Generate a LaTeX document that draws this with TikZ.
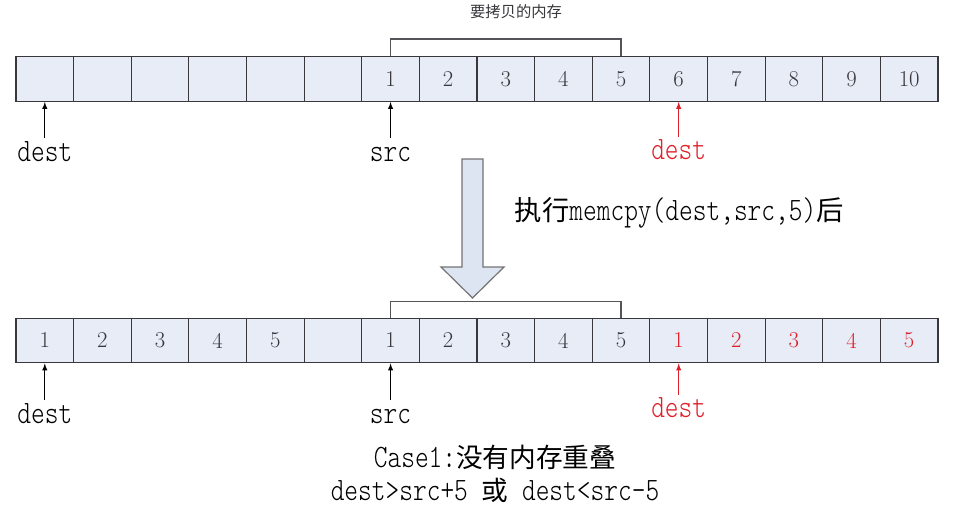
\documentclass[tikz,border=0pt]{standalone}
\usepackage{fontspec}
\newfontfamily\cjk{Noto Sans CJK SC}
\newfontfamily\mono[FakeStretch=0.8]{lmmonolt10-regular.otf}
\usepackage{xcolor}
\usetikzlibrary{positioning}

\definecolor{cellblue}{RGB}{231,236,246}
\definecolor{arrowblue}{RGB}{221,229,243}
\definecolor{linegray}{RGB}{55,55,60}
\definecolor{copyred}{RGB}{222,32,42}

\tikzset{
    cell/.style={draw=linegray, fill=cellblue, line width=0.9pt,
        minimum width=43.22pt, minimum height=33.5pt, inner sep=0pt,
        font=\fontsize{17}{17}\selectfont, text=linegray},
    ptr/.style={font=\mono\fontsize{24.5}{24.5}\selectfont, inner sep=1pt,
        text height=16pt, text depth=0pt},
    ptrline/.style={->, line width=0.8pt},
    brace/.style={draw=linegray!85, line width=1pt},
}

\begin{document}
\begin{tikzpicture}[>=latex, x=0.75pt, y=-0.75pt]
    \useasboundingbox (0,0) rectangle (978,507);

    % 1. Hàng trên
    \foreach \n [count=\i] in {{},{},{},{},{},{},1,2,3,4,5,6,7,8,9,10}
        \node[cell] (t\i) at ({16+57.625*(\i-0.5)}, 79) {\n};
    \draw[brace] (t7.north) -- ++(0,-17) -| (t11.north);
    \node[font=\cjk\fontsize{11.5}{12}\selectfont, text=linegray] (title) at (516,12) {要拷贝的内存};

    \node[ptr, below=27.3pt of t1] (tdest) {dest};
    \node[ptr, below=27.3pt of t7] (tsrc) {src};
    \node[ptr, below=26pt of t12, text=copyred] (tnew) {dest};
    \draw[ptrline] (tdest) -- (t1);
    \draw[ptrline] (tsrc) -- (t7);
    \draw[ptrline, copyred] (tnew) -- (t12);

    % 2. Mũi tên lớn
    \draw[fill=arrowblue, draw=gray!90!black, line width=0.9pt]
        (462,159) -- (483,159) -- (483,267) -- (504,267) -- (472.5,298)
        -- (441,267) -- (462,267) -- cycle;
    \node[font=\mono\fontsize{24.5}{24.5}\selectfont, anchor=west] (step) at (510,213)
        {{\cjk\fontsize{20.5}{20}\selectfont 执行}memcpy(dest,src,5){\cjk\fontsize{20.5}{20}\selectfont 后}};

    % 3. Hàng dưới
    \foreach \n [count=\i] in {1,2,3,4,5,{},1,2,3,4,5}
        \node[cell] (b\i) at ({16+57.625*(\i-0.5)}, 340.5) {\n};
    \foreach \n [count=\i from 12] in {1,2,3,4,5}
        \node[cell, text=copyred] (b\i) at ({16+57.625*(\i-0.5)}, 340.5) {\n};
    \draw[brace] (b7.north) -- ++(0,-16) -| (b11.north);

    \node[ptr, below=27.5pt of b1] (bdest) {dest};
    \node[ptr, below=27.5pt of b7] (bsrc) {src};
    \node[ptr, below=23.5pt of b12, text=copyred] (bnew) {dest};
    \draw[ptrline] (bdest) -- (b1);
    \draw[ptrline] (bsrc) -- (b7);
    \draw[ptrline, copyred] (bnew) -- (b12);

    \node[font=\mono\fontsize{24.5}{24.75}\selectfont, align=center] (case) at (495,474)
        {Case1:{\cjk\fontsize{20}{20}\selectfont 没有内存重叠}\\dest>src+5 {\cjk\fontsize{20}{20}\selectfont 或} dest<src-5};
\end{tikzpicture}
\end{document}
